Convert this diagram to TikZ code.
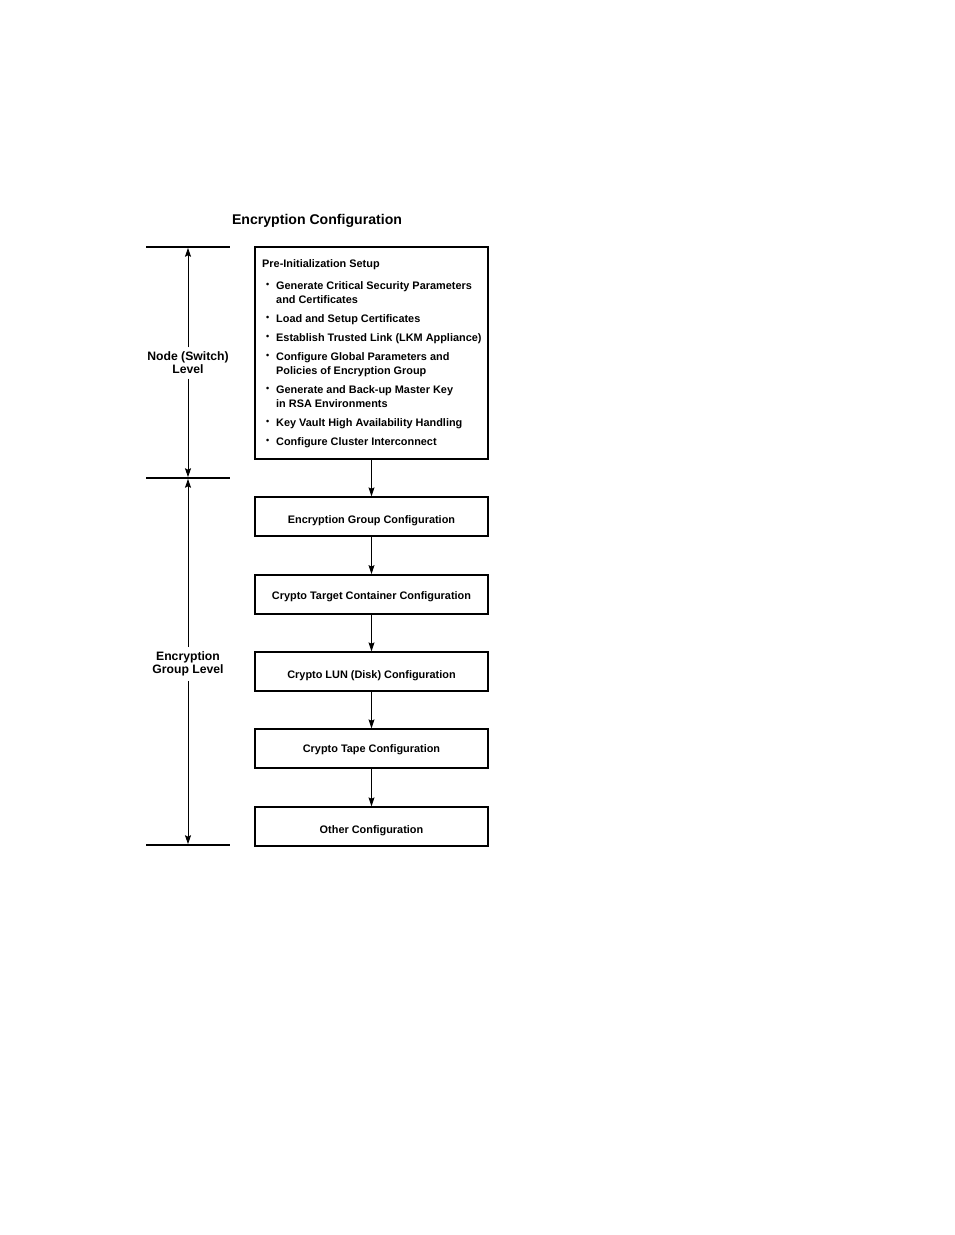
\documentclass[tikz,border=0pt]{standalone}
\usepackage{fontspec}
\setmainfont{Liberation Sans}
\usetikzlibrary{arrows.meta}
\begin{document}
\begin{tikzpicture}[x=1pt,y=-1pt,
  box/.style={draw,line width=1.3pt,minimum width=233pt,minimum height=39pt,inner sep=0pt,text depth=2.5pt,font=\bfseries\fontsize{10.9}{12}\selectfont},
  low/.style={text height=#1},
  flow/.style={line width=0.9pt,-{Stealth[length=9pt,width=6pt,inset=1.5pt]}},
  tick/.style={line width=1.5pt},
  lvl/.style={font=\bfseries\fontsize{12.2}{13}\selectfont,align=center,inner xsep=1pt,inner ysep=4.5pt},
  ln/.style={anchor=base west,inner sep=0pt,font=\bfseries\fontsize{10.9}{12}\selectfont},
  bul/.style={anchor=base west,inner sep=0pt,font=\bfseries\fontsize{9}{12}\selectfont}]
\useasboundingbox (0,0) rectangle (954,1235);
\node[font=\bfseries\fontsize{14.1}{16}\selectfont,inner sep=0pt] (title) at (317,220.5) {Encryption Configuration};
% ticks
\coordinate (t1l) at (146,247); \coordinate (t1r) at (230,247);
\coordinate (t2l) at (146,478); \coordinate (t2r) at (230,478);
\coordinate (t3l) at (146,845); \coordinate (t3r) at (230,845);
\draw[tick] (t1l) -- (t1r);
\draw[tick] (t2l) -- (t2r);
\draw[tick] (t3l) -- (t3r);
\coordinate (a1) at (188,247.8); \coordinate (a2u) at (188,477.2); \coordinate (a2d) at (188,478.8); \coordinate (a3) at (188,844.2);
\node[lvl] (nl) at (188,363) {Node (Switch)\\Level};
\node[lvl] (gl) at (188,664) {Encryption\\Group Level};
\draw[flow] (nl.north) -- (a1);
\draw[flow] (nl.south) -- (a2u);
\draw[flow] (gl.north) -- (a2d);
\draw[flow] (gl.south) -- (a3);
% top box
\node[draw,line width=1.3pt,minimum width=233pt,minimum height=212pt,inner sep=0pt] (pre) at (371.5,353) {};
\node[ln] (h) at (262,267) {Pre-Initialization Setup};
\foreach \y/\t [count=\i] in {289/Generate Critical Security Parameters,303/and Certificates,322/Load and Setup Certificates,341/Establish Trusted Link (LKM Appliance),360/Configure Global Parameters and,374/Policies of Encryption Group,393/Generate and Back-up Master Key,407/in RSA Environments,426/Key Vault High Availability Handling,445/Configure Cluster Interconnect}
  \node[ln] (l\i) at (276,\y) {\t};
\foreach \y [count=\i] in {287,320,339,358,391,424,443}
  \node[bul] (b\i) at (266,\y) {\textbullet};
% boxes
\node[box,low=16pt] (eg) at (371.5,516.5) {Encryption Group Configuration};
\node[box,low=12pt,line width=1.8pt] (ct) at (371.5,594.5) {Crypto Target Container Configuration};
\node[box,low=16pt] (lun) at (371.5,671.5) {Crypto LUN (Disk) Configuration};
\node[box,low=10.5pt] (tape) at (371.5,748.5) {Crypto Tape Configuration};
\node[box,low=16pt] (oth) at (371.5,826.5) {Other Configuration};
\draw[flow] (pre) -- (eg);
\draw[flow] (eg) -- (ct);
\draw[flow] (ct) -- (lun);
\draw[flow] (lun) -- (tape);
\draw[flow] (tape) -- (oth);
\end{tikzpicture}
\end{document}
